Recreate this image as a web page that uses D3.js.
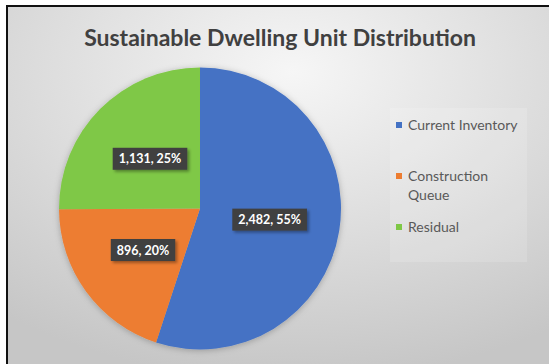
<!DOCTYPE html>
<meta charset="utf-8">
<style>
    body { margin: 0; background: #fff; }
    text { font-family: Lato, "Open Sans", sans-serif; }
</style>
<script src="https://d3js.org/d3.v7.min.js"></script>
<div id="chart"></div>
<script>
    // data
    var categories = ["Current Inventory", "Construction Queue", "Residual"];
    var values = [2482, 896, 1131];
    var legend_lines = [["Current Inventory"], ["Construction", "Queue"], ["Residual"]];
    var colors = ["#4472c4", "#ed7d31", "#7fc846"];

    var width = 549, height = 364;
    var cx = 200, cy = 208.5, radius = 141;

    var svg = d3.select("#chart").append("svg")
        .attr("width", width).attr("height", height);
    var defs = svg.append("defs");

    // background gradient, light at top centre
    var grad = defs.append("radialGradient").attr("id", "bg")
        .attr("cx", "52%").attr("cy", "18%").attr("r", "85%");
    grad.append("stop").attr("offset", "0%").attr("stop-color", "#f6f6f6");
    grad.append("stop").attr("offset", "55%").attr("stop-color", "#dcdcdc");
    grad.append("stop").attr("offset", "100%").attr("stop-color", "#c6c6c6");

    var pie_shadow = defs.append("filter").attr("id", "pieshadow")
        .attr("x", "-10%").attr("y", "-10%").attr("width", "120%").attr("height", "120%");
    pie_shadow.append("feDropShadow").attr("dx", 0).attr("dy", 1)
        .attr("stdDeviation", 3).attr("flood-color", "#000").attr("flood-opacity", 0.25);

    var lab_shadow = defs.append("filter").attr("id", "labshadow")
        .attr("x", "-20%").attr("y", "-30%").attr("width", "150%").attr("height", "180%");
    lab_shadow.append("feDropShadow").attr("dx", 2).attr("dy", 2)
        .attr("stdDeviation", 1.5).attr("flood-color", "#000").attr("flood-opacity", 0.35);

    // frame
    svg.append("rect").attr("x", 7).attr("y", 6).attr("width", width).attr("height", height)
        .attr("fill", "url(#bg)");
    svg.append("line").attr("x1", 7).attr("x2", 7).attr("y1", 5).attr("y2", height)
        .attr("stroke", "#111").attr("stroke-width", 2);
    svg.append("line").attr("x1", 6).attr("x2", width).attr("y1", 6).attr("y2", 6)
        .attr("stroke", "#111").attr("stroke-width", 2);

    // title
    svg.append("text")
        .attr("x", 280).attr("y", 46)
        .attr("text-anchor", "middle")
        .attr("font-size", "23px").attr("font-weight", "bold")
        .attr("fill", "#404040")
        .text("Sustainable Dwelling Unit Distribution");

    // pie
    var total = d3.sum(values);
    var pie = d3.pie().sort(null).value(function(d) { return d; });
    var arcs = pie(values);
    var arc = d3.arc().innerRadius(0).outerRadius(radius);

    var g = svg.append("g").attr("transform", "translate(" + cx + "," + cy + ")");
    g.append("g").attr("filter", "url(#pieshadow)")
        .selectAll("path").data(arcs).enter().append("path")
        .attr("d", arc)
        .attr("fill", function(d, i) { return colors[i]; });

    // data labels
    var fmt = d3.format(",");
    arcs.forEach(function(d, i) {
        var c = arc.centroid(d);
        var label = fmt(values[i]) + ", " + Math.round(values[i] / total * 100) + "%";
        var lg = g.append("g").attr("transform", "translate(" + c[0] + "," + c[1] + ")");
        var box = lg.append("rect").attr("fill", "#404040").attr("filter", "url(#labshadow)");
        var t = lg.append("text")
            .attr("text-anchor", "middle").attr("dy", "0.36em")
            .attr("font-size", "12.5px").attr("font-weight", "bold")
            .attr("fill", "#fff")
            .text(label);
        var w = t.node().getComputedTextLength() + 12;
        box.attr("x", -w / 2).attr("y", -11).attr("width", w).attr("height", 22);
    });

    // legend
    svg.append("rect").attr("x", 390).attr("y", 108).attr("width", 137).attr("height", 154)
        .attr("fill", "#ffffff").attr("fill-opacity", 0.15);
    var legend_y = [125, 176, 227];
    categories.forEach(function(name, i) {
        svg.append("rect").attr("x", 396).attr("y", legend_y[i] - 3)
            .attr("width", 6).attr("height", 6).attr("fill", colors[i]);
        var t = svg.append("text").attr("x", 408).attr("y", legend_y[i] + 5)
            .attr("font-size", "14px").attr("fill", "#595959");
        legend_lines[i].forEach(function(line, j) {
            t.append("tspan").attr("x", 408).attr("dy", j === 0 ? 0 : 19).text(line);
        });
    });
</script>
